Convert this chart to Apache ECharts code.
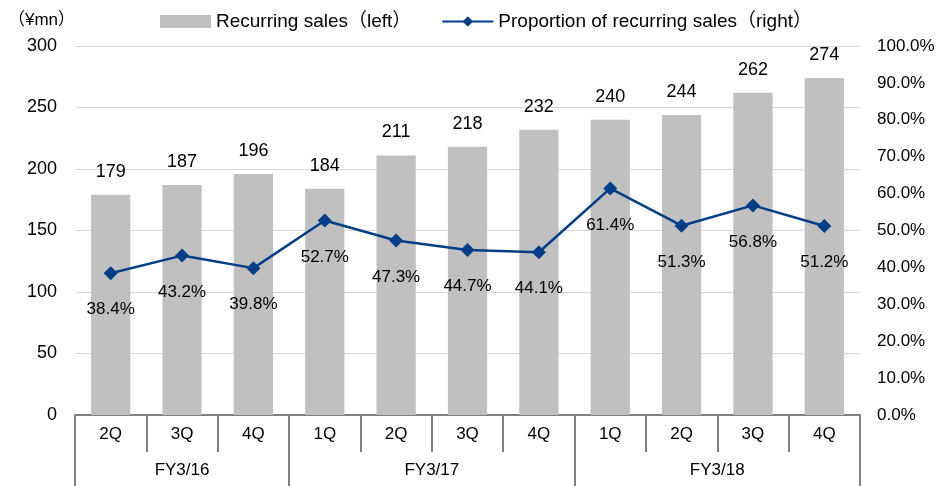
<!DOCTYPE html>
<html>
<head>
<meta charset="utf-8">
<script src="https://cdn.jsdelivr.net/npm/echarts@6/dist/echarts.min.js"></script>
<style>
  html, body { margin: 0; padding: 0; background: #fff; }
  #main { width: 938px; height: 486px; }
</style>
</head>
<body>
<div id="main"></div>
<script>
// quarters on the lower axis, grouped by fiscal year
var quarters = ['2Q', '3Q', '4Q', '1Q', '2Q', '3Q', '4Q', '1Q', '2Q', '3Q', '4Q'];
var fiscalYears = ['FY3/16', 'FY3/17', 'FY3/18'];
var yearSizes = [3, 4, 4];

// recurring sales (¥mn) and its proportion (%)
var recurringSales = [179, 187, 196, 184, 211, 218, 232, 240, 244, 262, 274];
var recurringShare = [38.4, 43.2, 39.8, 52.7, 47.3, 44.7, 44.1, 61.4, 51.3, 56.8, 51.2];

var leftTicks = { min: 0, max: 300, interval: 50 };
var rightTicks = { min: 0, max: 100, interval: 10 };

// group boundaries and centres for the fiscal-year row
var yearEdges = [0];
var yearCentres = [];
yearSizes.forEach(function (n, i) {
  var start = yearEdges[i];
  yearEdges.push(start + n);
  yearCentres.push(start + n / 2);
});

var FONT = '"Liberation Sans", "Noto Sans CJK JP", Arial, sans-serif';
var chart = echarts.init(document.getElementById('main'), null, { renderer: 'canvas' });

var option = {
  backgroundColor: '#ffffff',
  animation: false,
  textStyle: { fontFamily: FONT, color: '#000' },
  title: {
    text: '（¥mn）',
    left: 3,
    top: 7,
    textStyle: { fontFamily: FONT, fontSize: 17, fontWeight: 'normal', color: '#000' }
  },
  legend: {
    top: 7,
    left: 155,
    itemWidth: 51,
    itemHeight: 13,
    itemGap: 30,
    textStyle: { fontFamily: FONT, fontSize: 19, color: '#000' },
    data: [
      { name: 'Recurring sales（left）', icon: 'rect' },
      { name: 'Proportion of recurring sales（right）' }
    ]
  },
  grid: { left: 75, right: 78, top: 46, bottom: 71, containLabel: false },
  xAxis: [{
    type: 'category',
    data: quarters,
    position: 'bottom',
    axisLine: { lineStyle: { color: '#808080', width: 2 } },
    axisTick: { show: true, interval: 0, length: 37, lineStyle: { color: '#808080', width: 2 } },
    axisLabel: { interval: 0, margin: 11, fontSize: 17, color: '#000', fontFamily: FONT },
    splitLine: { show: false }
  }, {
    type: 'value',
    min: 0,
    max: quarters.length,
    position: 'bottom',
    offset: 37,
    axisLine: { show: true, onZero: false, lineStyle: { color: 'rgba(0,0,0,0)', width: 0 } },
    axisTick: {
      show: true, length: 34, customValues: yearEdges,
      lineStyle: { color: '#808080', width: 2 }
    },
    axisLabel: {
      show: true, margin: 10, fontSize: 17, color: '#000', fontFamily: FONT,
      customValues: yearCentres,
      formatter: function (v) {
        var i = yearCentres.indexOf(v);
        return i >= 0 ? fiscalYears[i] : '';
      }
    },
    splitLine: { show: false }
  }],
  yAxis: [{
    type: 'value',
    min: leftTicks.min,
    max: leftTicks.max,
    interval: leftTicks.interval,
    axisLine: { show: false },
    axisTick: { show: false },
    axisLabel: { margin: 18, fontSize: 18, color: '#000', fontFamily: FONT },
    splitLine: { lineStyle: { color: '#d9d9d9', width: 1 } }
  }, {
    type: 'value',
    min: rightTicks.min,
    max: rightTicks.max,
    interval: rightTicks.interval,
    position: 'right',
    axisLine: { show: false },
    axisTick: { show: false },
    axisLabel: {
      margin: 17, fontSize: 17, color: '#000', fontFamily: FONT,
      formatter: function (v) { return v.toFixed(1) + '%'; }
    },
    splitLine: { show: false }
  }],
  series: [{
    name: 'Recurring sales（left）',
    type: 'bar',
    xAxisIndex: 0,
    yAxisIndex: 0,
    data: recurringSales,
    barWidth: '55%',
    itemStyle: { color: '#c0c0c0' },
    label: {
      show: true, position: 'top', distance: 14,
      fontSize: 18, color: '#000', fontFamily: FONT
    }
  }, {
    name: 'Proportion of recurring sales（right）',
    type: 'line',
    xAxisIndex: 0,
    yAxisIndex: 1,
    data: recurringShare,
    symbol: 'diamond',
    symbolSize: 14,
    lineStyle: { color: '#003f87', width: 2.5 },
    itemStyle: { color: '#003f87' },
    label: {
      show: true, position: 'bottom', distance: 21,
      fontSize: 17, color: '#000', fontFamily: FONT,
      formatter: function (p) { return p.value.toFixed(1) + '%'; }
    }
  }]
};

chart.setOption(option);
</script>
</body>
</html>
